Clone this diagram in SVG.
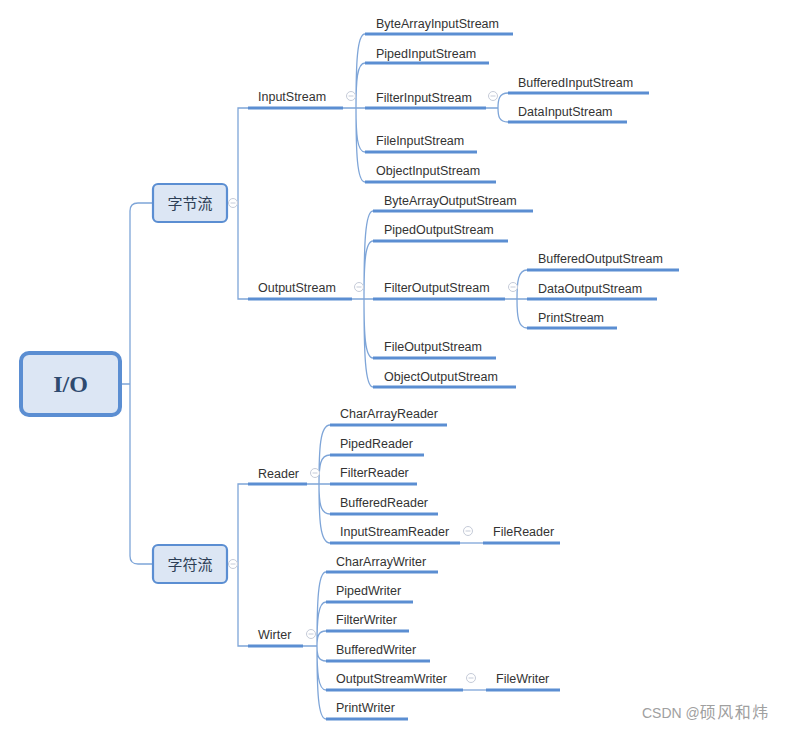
<svg xmlns="http://www.w3.org/2000/svg" width="793" height="731" viewBox="0 0 793 731">
<style>
.t{font-family:"Liberation Sans","Noto Sans",Arial,sans-serif;font-size:12.5px;fill:#333}
.u{stroke:#5b8ed2;stroke-width:3;fill:none}
.c{stroke:#7ea5d8;stroke-width:1.3;fill:none}
.box{fill:#dce6f4;stroke:#5b8ed2;stroke-width:2.2}
.cjk{font-family:"Noto Sans CJK SC","Noto Sans",sans-serif;font-size:15px;fill:#2d3e55;text-anchor:middle}
.m{fill:#fff;stroke:#c5cbd8;stroke-width:1}
.ml{stroke:#c5cbd8;stroke-width:1}
</style>
<defs>
<g id="minus"><circle class="m" cx="0" cy="0" r="4.5"/><line class="ml" x1="-2.5" y1="0" x2="2.5" y2="0"/></g>
</defs>
<rect width="793" height="731" fill="#fff"/>
<g id="connectors">
<path class="c" d="M121,384 H130 M153,203 H138 Q130,203 130,211 V556 Q130,564 138,564 H153"/>
<path class="c" d="M227,203 H238 M248,108 H238 V299 H248"/>
<path class="c" d="M227,564 H238 M248,484 H238 V646 H248"/>
<path class="c" d="M343,108 H365 M356,108 C356,64 357,34 365,34 M356,108 C356,81 357,63 365,63 M356,108 C356,134 357,152 365,152 M356,108 C356,152 357,182 365,182"/>
<path class="c" d="M486,108 H498 C498,100 499,93 508,93 M498,108 C498,116 499,122 508,122"/>
<path class="c" d="M352,299 H373 M364,299 C364,246 365,211 373,211 M364,299 C364,264 365,241 373,241 M364,299 C364,334 365,358 373,358 M364,299 C364,352 365,387 373,387"/>
<path class="c" d="M505,299 H527 M517,299 C517,282 518,270 527,270 M517,299 C517,316 518,328 527,328"/>
<path class="c" d="M307,484 H330 M319,484 C319,449 320,425 330,425 M319,484 C319,466 320,455 330,455 M319,484 C319,502 320,514 330,514 M319,484 C319,519 320,543 330,543"/>
<path class="c" d="M460,543 H483"/>
<path class="c" d="M303,646 H317 C317,602 318,572 326,572 M317,646 C317,620 318,602 326,602 M317,646 C317,637 318,631 326,631 M317,646 C317,655 318,661 326,661 M317,646 C317,672 318,690 326,690 M317,646 C317,690 318,719 326,719"/>
<path class="c" d="M463,690 H486"/>
</g>
<g id="io">
<rect x="21" y="353" width="99" height="62" rx="8" fill="#dce6f4" stroke="#5b8ed2" stroke-width="4"/>
<text x="70.5" y="392" font-family="'Liberation Serif',serif" font-weight="bold" font-size="24" fill="#2e4a6f" text-anchor="middle">I/O</text>
</g>
<g id="byte-stream">
<rect class="box" x="153" y="184" width="74" height="38" rx="5"/>
<text class="cjk" x="190" y="208.5">字节流</text>
<use href="#minus" x="233" y="203"/>
</g>
<g id="char-stream">
<rect class="box" x="153" y="545" width="74" height="38" rx="5"/>
<text class="cjk" x="190" y="569.5">字符流</text>
<use href="#minus" x="233" y="564"/>
</g>
<g id="InputStream"><text class="t" x="258" y="100.5">InputStream</text><line class="u" x1="248" y1="108" x2="343" y2="108"/><use href="#minus" x="351" y="96"/></g>
<g id="ByteArrayInputStream"><text class="t" x="376" y="27.5">ByteArrayInputStream</text><line class="u" x1="365" y1="34" x2="513" y2="34"/></g>
<g id="PipedInputStream"><text class="t" x="376" y="57.5">PipedInputStream</text><line class="u" x1="365" y1="63" x2="489" y2="63"/></g>
<g id="FilterInputStream"><text class="t" x="376" y="101.5">FilterInputStream</text><line class="u" x1="365" y1="108" x2="486" y2="108"/><use href="#minus" x="493" y="96"/></g>
<g id="FileInputStream"><text class="t" x="376" y="144.5">FileInputStream</text><line class="u" x1="365" y1="152" x2="477" y2="152"/></g>
<g id="ObjectInputStream"><text class="t" x="376" y="174.5">ObjectInputStream</text><line class="u" x1="365" y1="182" x2="496" y2="182"/></g>
<g id="BufferedInputStream"><text class="t" x="518" y="86.5">BufferedInputStream</text><line class="u" x1="508" y1="93" x2="649" y2="93"/></g>
<g id="DataInputStream"><text class="t" x="518" y="115.5">DataInputStream</text><line class="u" x1="508" y1="122" x2="627" y2="122"/></g>
<g id="OutputStream"><text class="t" x="258" y="291.5">OutputStream</text><line class="u" x1="248" y1="299" x2="352" y2="299"/><use href="#minus" x="359" y="287"/></g>
<g id="ByteArrayOutputStream"><text class="t" x="384" y="204.5">ByteArrayOutputStream</text><line class="u" x1="373" y1="211" x2="533" y2="211"/></g>
<g id="PipedOutputStream"><text class="t" x="384" y="233.5">PipedOutputStream</text><line class="u" x1="373" y1="241" x2="508" y2="241"/></g>
<g id="FilterOutputStream"><text class="t" x="384" y="291.5">FilterOutputStream</text><line class="u" x1="373" y1="299" x2="505" y2="299"/><use href="#minus" x="513" y="287"/></g>
<g id="FileOutputStream"><text class="t" x="384" y="350.5">FileOutputStream</text><line class="u" x1="373" y1="358" x2="496" y2="358"/></g>
<g id="ObjectOutputStream"><text class="t" x="384" y="380.5">ObjectOutputStream</text><line class="u" x1="373" y1="387" x2="516" y2="387"/></g>
<g id="BufferedOutputStream"><text class="t" x="538" y="262.5">BufferedOutputStream</text><line class="u" x1="527" y1="270" x2="679" y2="270"/></g>
<g id="DataOutputStream"><text class="t" x="538" y="292.5">DataOutputStream</text><line class="u" x1="527" y1="299" x2="657" y2="299"/></g>
<g id="PrintStream"><text class="t" x="538" y="321.5">PrintStream</text><line class="u" x1="527" y1="328" x2="617" y2="328"/></g>
<g id="Reader"><text class="t" x="258" y="477.5">Reader</text><line class="u" x1="248" y1="484" x2="307" y2="484"/><use href="#minus" x="315" y="473"/></g>
<g id="CharArrayReader"><text class="t" x="340" y="417.5">CharArrayReader</text><line class="u" x1="330" y1="425" x2="447" y2="425"/></g>
<g id="PipedReader"><text class="t" x="340" y="447.5">PipedReader</text><line class="u" x1="330" y1="455" x2="424" y2="455"/></g>
<g id="FilterReader"><text class="t" x="340" y="476.5">FilterReader</text><line class="u" x1="330" y1="484" x2="417" y2="484"/></g>
<g id="BufferedReader"><text class="t" x="340" y="506.5">BufferedReader</text><line class="u" x1="330" y1="514" x2="438" y2="514"/></g>
<g id="InputStreamReader"><text class="t" x="340" y="535.5">InputStreamReader</text><line class="u" x1="330" y1="543" x2="460" y2="543"/><use href="#minus" x="468" y="531"/></g>
<g id="FileReader"><text class="t" x="493" y="535.5">FileReader</text><line class="u" x1="483" y1="543" x2="560" y2="543"/></g>
<g id="Writer"><text class="t" x="258" y="638.5">Wirter</text><line class="u" x1="248" y1="646" x2="303" y2="646"/><use href="#minus" x="311" y="634"/></g>
<g id="CharArrayWriter"><text class="t" x="336" y="565.5">CharArrayWriter</text><line class="u" x1="326" y1="572" x2="438" y2="572"/></g>
<g id="PipedWriter"><text class="t" x="336" y="594.5">PipedWriter</text><line class="u" x1="326" y1="602" x2="413" y2="602"/></g>
<g id="FilterWriter"><text class="t" x="336" y="623.5">FilterWriter</text><line class="u" x1="326" y1="631" x2="409" y2="631"/></g>
<g id="BufferedWriter"><text class="t" x="336" y="653.5">BufferedWriter</text><line class="u" x1="326" y1="661" x2="430" y2="661"/></g>
<g id="OutputStreamWriter"><text class="t" x="336" y="682.5">OutputStreamWriter</text><line class="u" x1="326" y1="690" x2="463" y2="690"/><use href="#minus" x="471" y="678"/></g>
<g id="FileWriter"><text class="t" x="496" y="682.5">FileWriter</text><line class="u" x1="486" y1="690" x2="560" y2="690"/></g>
<g id="PrintWriter"><text class="t" x="336" y="711.5">PrintWriter</text><line class="u" x1="326" y1="719" x2="408" y2="719"/></g>
<text x="642" y="718" font-family="'Liberation Sans','Noto Sans CJK SC',sans-serif" font-size="14" fill="#a0a0a0">CSDN @<tspan font-size="16" letter-spacing="1.5">硕风和炜</tspan></text>
</svg>
